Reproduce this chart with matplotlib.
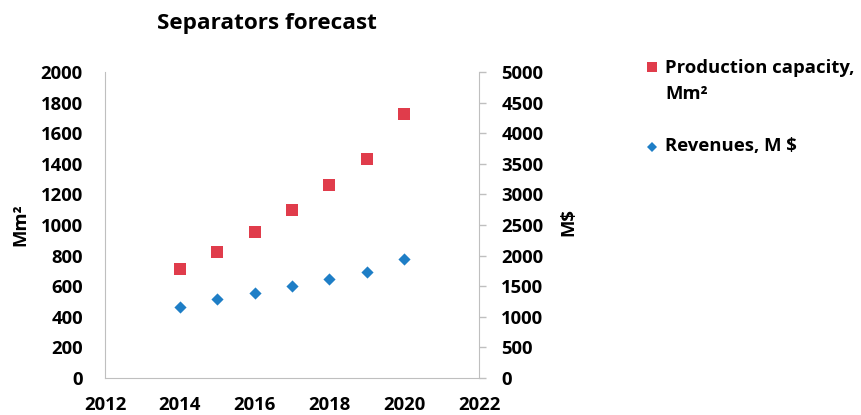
import matplotlib
matplotlib.use("Agg")
import matplotlib.pyplot as plt
from matplotlib.lines import Line2D

years = [2014, 2015, 2016, 2017, 2018, 2019, 2020]
capacity = [710, 826, 956, 1100, 1261, 1433, 1725]
revenues = [1165, 1286, 1394, 1508, 1623, 1737, 1950]
x_ticks = [2012, 2014, 2016, 2018, 2020, 2022]
left_ticks = list(range(0, 2001, 200))
right_ticks = list(range(0, 5001, 500))

RED = "#E03C4B"
BLUE = "#1E7EC6"
GRAY = "#BFBFBF"

plt.rcParams['font.family'] = ['Open Sans', 'DejaVu Sans']
plt.rcParams['font.weight'] = 'bold'

fig = plt.figure(figsize=(8.62, 4.15), dpi=100)
ax = fig.add_axes([105/862, 1-378/415, (479-105)/862, (378-72)/415])
ax2 = ax.twinx()

ax.scatter(years, capacity, marker='s', s=8.6**2, color=RED, zorder=3, linewidths=0)
ax2.scatter(years, revenues, marker='D', s=6.2**2, color=BLUE, zorder=3, linewidths=0)

ax.set_xlim(2012, 2022)
ax.set_ylim(0, 2000)
ax2.set_ylim(0, 5000)
ax.set_xticks(x_ticks)
ax.set_yticks(left_ticks)
ax2.set_yticks(right_ticks)

fs = 13.3
for a in (ax, ax2):
    for s in a.spines.values():
        s.set_color(GRAY)
    a.spines['top'].set_visible(False)
ax.spines['right'].set_visible(False)
ax2.spines['left'].set_visible(False)
ax2.spines['bottom'].set_visible(False)

ax.tick_params(axis='x', length=0, pad=13, labelsize=fs)
ax.tick_params(axis='y', length=0, pad=16, labelsize=fs)
ax2.tick_params(axis='y', length=5, width=1, color=GRAY, pad=11, labelsize=fs, direction='out')
for lab in ax.get_xticklabels() + ax.get_yticklabels() + ax2.get_yticklabels():
    lab.set_fontweight('bold')

ax.set_ylabel("Mm²", fontsize=fs, fontweight='bold')
ax.yaxis.set_label_coords((29-105)/374, 0.5)
ax2.set_ylabel("M$", fontsize=fs, fontweight='bold')
ax2.yaxis.set_label_coords((559-105)/374, (378-222)/306)

fig.text(267/862, 1-23/415, "Separators forecast", ha='center', va='center',
         fontsize=16.2, fontweight='bold')

# legend
fig.add_artist(Line2D([652/862], [1-67/415], transform=fig.transFigure, marker='s',
                      markersize=7.8, color=RED, linestyle='none', markeredgewidth=0))
fig.add_artist(Line2D([652/862], [1-147/415], transform=fig.transFigure, marker='D',
                      markersize=5.2, color=BLUE, linestyle='none', markeredgewidth=0))
fig.text(665/862, 1-68/415, "Production capacity,", ha='left', va='center',
         fontsize=fs, fontweight='bold')
fig.text(665/862, 1-94/415, "Mm²", ha='left', va='center', fontsize=fs, fontweight='bold')
fig.text(665/862, 1-146/415, "Revenues, M $", ha='left', va='center', fontsize=fs,
         fontweight='bold')

fig.savefig("out.png", dpi=100)
